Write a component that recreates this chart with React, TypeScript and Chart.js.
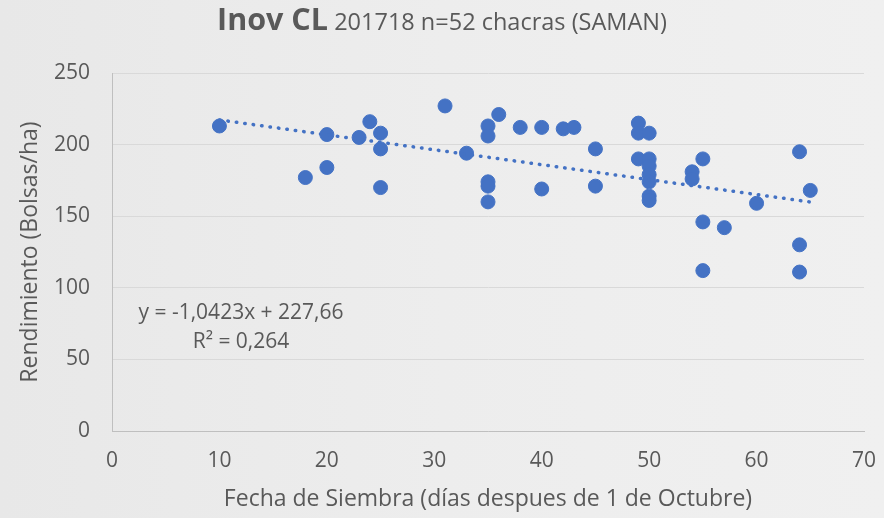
import React, { useEffect, useRef } from "react";
import { Chart, registerables } from "chart.js";

Chart.register(...registerables);

// Días después de 1 de octubre (x) y rendimiento en bolsas/ha (y)
const siembraDias = [
  10, 18, 20, 20, 23, 24, 25, 25, 25, 31, 33, 35, 35, 35, 35, 35, 36, 38, 40, 40,
  42, 43, 45, 45, 49, 49, 49, 50, 50, 50, 50, 50, 50, 50, 54, 54, 55, 55, 55, 57,
  60, 64, 64, 64, 65,
];
const rendimiento = [
  213, 177, 207, 184, 205, 216, 208, 197, 170, 227, 194, 213, 206, 174, 171, 160, 221, 212, 212, 169,
  211, 212, 197, 171, 215, 208, 190, 208, 190, 185, 179, 174, 164, 161, 181, 176, 190, 146, 112, 142,
  159, 195, 130, 111, 168,
];

const xTicks = [0, 10, 20, 30, 40, 50, 60, 70];
const yTicks = [0, 50, 100, 150, 200, 250];

const pendiente = -1.0423;
const intercepto = 227.66;
const ecuacionTexto = ["y = -1,0423x + 227,66", "R\u00B2 = 0,264"];

const tituloNegrita = "Inov CL";
const tituloResto = " 201718 n=52 chacras (SAMAN)";
const tituloX = "Fecha de Siembra (días despues de 1 de Octubre)";
const tituloY = "Rendimiento (Bolsas/ha)";

const FONT = '"Open Sans", "Noto Sans", sans-serif';
const GRIS = "#595959";
const AZUL = "#4472C4";

export default function App() {
  const canvasRef = useRef<HTMLCanvasElement | null>(null);

  useEffect(() => {
    const canvas = canvasRef.current;
    if (!canvas) return;

    const puntos = siembraDias.map((x, i) => ({ x, y: rendimiento[i] }));
    const xMin = Math.min(...siembraDias);
    const xMax = Math.max(...siembraDias);
    const tendencia = [
      { x: xMin, y: pendiente * xMin + intercepto },
      { x: xMax, y: pendiente * xMax + intercepto },
    ];

    const textos = {
      id: "textos",
      afterDraw(chart: any) {
        const ctx = chart.ctx;
        ctx.save();
        ctx.fillStyle = GRIS;
        ctx.textBaseline = "alphabetic";
        ctx.textAlign = "left";
        ctx.font = `bold 30.5px ${FONT}`;
        const w1 = ctx.measureText(tituloNegrita).width;
        ctx.font = `23.5px ${FONT}`;
        const w2 = ctx.measureText(tituloResto).width;
        const x0 = 442 - (w1 + w2) / 2;
        ctx.font = `bold 30.5px ${FONT}`;
        ctx.fillText(tituloNegrita, x0, 30);
        ctx.font = `23.5px ${FONT}`;
        ctx.fillText(tituloResto, x0 + w1, 30);

        const ca = chart.chartArea;
        ctx.textAlign = "center";
        ctx.font = `21px ${FONT}`;
        ctx.fillText(ecuacionTexto[0], ca.left + 129, 319);
        ctx.fillText(ecuacionTexto[1], ca.left + 129, 347.5);
        ctx.restore();
      },
    };

    const chart = new Chart(canvas, {
      type: "scatter",
      data: {
        datasets: [
          {
            type: "line",
            label: "Tendencia",
            data: tendencia,
            borderColor: AZUL,
            borderWidth: 3.5,
            borderDash: [0.5, 8],
            borderCapStyle: "round",
            pointRadius: 0,
            fill: false,
            tension: 0,
          } as any,
          {
            label: "Rendimiento",
            data: puntos,
            backgroundColor: AZUL,
            borderColor: AZUL,
            borderWidth: 1,
            pointRadius: 7,
            pointHoverRadius: 7,
          },
        ],
      },
      options: {
        animation: false,
        responsive: false,
        events: [],
        layout: { padding: { left: 0, right: 20, top: 73, bottom: 0 } },
        plugins: {
          legend: { display: false },
          title: { display: false },
          tooltip: { enabled: false },
        },
        scales: {
          x: {
            type: "linear",
            min: 0,
            max: 70,
            afterBuildTicks: (s: any) => {
              s.ticks = xTicks.map((v) => ({ value: v }));
            },
            afterFit: (s: any) => {
              s.height = 87;
              s.paddingLeft = 0;
              s.paddingRight = 0;
            },
            grid: { display: false, drawTicks: false },
            border: { display: true, color: "#BFBFBF", width: 1 },
            ticks: {
              color: GRIS,
              font: { family: FONT, size: 21 },
              padding: 17,
              maxRotation: 0,
            },
            title: {
              display: true,
              text: tituloX,
              color: GRIS,
              font: { family: FONT, size: 23 },
              padding: { top: 0, bottom: 5 },
            },
          },
          y: {
            type: "linear",
            min: 0,
            max: 250,
            afterBuildTicks: (s: any) => {
              s.ticks = yTicks.map((v) => ({ value: v }));
            },
            afterFit: (s: any) => {
              s.width = 112;
              s.paddingTop = 0;
              s.paddingBottom = 0;
            },
            grid: { display: true, color: "#D9D9D9", lineWidth: 1, drawTicks: false },
            border: { display: true, color: "#BFBFBF", width: 1 },
            ticks: {
              color: GRIS,
              font: { family: FONT, size: 21 },
              padding: 22,
            },
            title: {
              display: true,
              text: tituloY,
              color: GRIS,
              font: { family: FONT, size: 23 },
              padding: { top: 17, bottom: 0 },
            },
          },
        },
      },
      plugins: [textos],
    });

    return () => {
      chart.destroy();
    };
  }, []);

  return (
    <div
      style={{
        position: "fixed",
        left: 0,
        top: 0,
        width: 884,
        height: 518,
        background: "linear-gradient(90deg, #E8E8E8 0%, #EDEDED 50%, #F0F0F0 100%)",
      }}
    >
      <canvas ref={canvasRef} width={884} height={518} style={{ display: "block", width: 884, height: 518 }} />
    </div>
  );
}
